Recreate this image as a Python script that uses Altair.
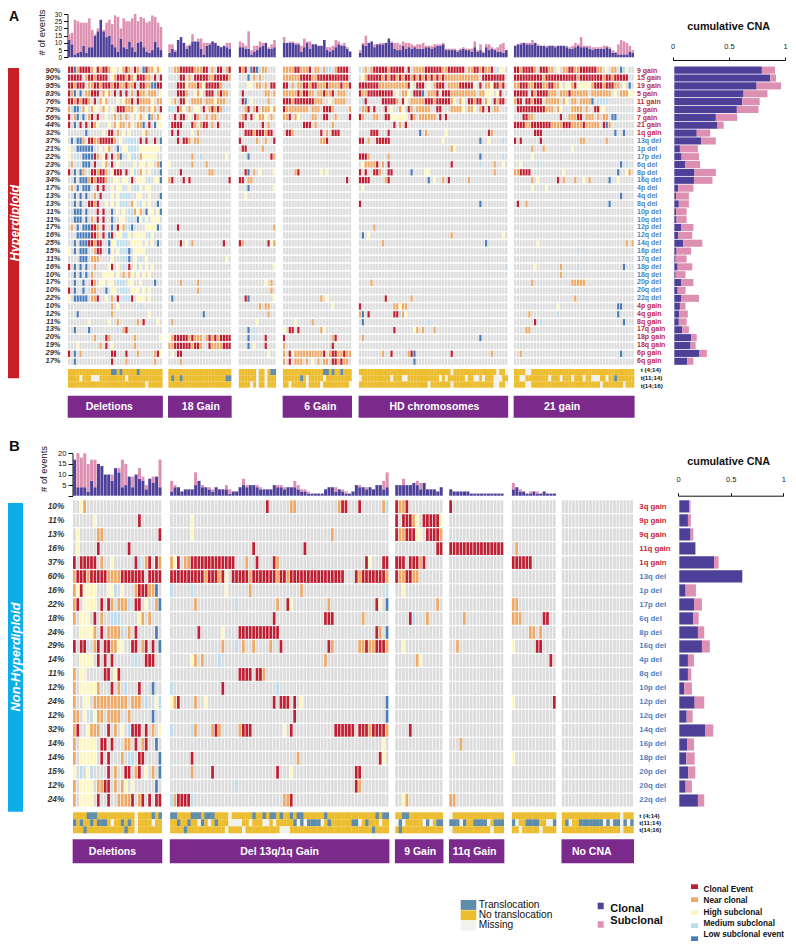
import re
import altair as alt
import pandas as pd

alt.data_transformers.disable_max_rows()

# ------------------------------------------------------------------ values
ROWS_A = ["9 gain","15 gain","19 gain","5 gain","11 gain","3 gain","7 gain","21 gain","1q gain","13q del",
          "1p del","17p del","6q del","8p del","16q del","4p del","4q del","8q del","10p del","10q del",
          "12p del","12q del","14q del","16p del","17q del","18p del","18q del","20p del","20q del","22q del",
          "4p gain","4q gain","8q gain","17q gain","18p gain","18q gain","6p gain","6q gain"]
PCT_A = [90,90,95,83,76,75,56,44,32,37,21,22,23,37,34,17,13,13,11,11,17,16,25,15,11,16,10,17,10,22,10,12,11,13,20,19,29,17]
CLONAL_SHARE_A = [.78,.855,.733,.617,.606,.557,.37,.385,.20,.24,.05,.065,.095,.18,.175,.035,.015,.04,.015,.02,
                  .06,.035,.08,.02,.012,.03,.012,.06,.03,.06,.05,.045,.04,.07,.15,.145,.22,.115]
TOTAL_SHARE_A = [.897,.906,.95,.83,.76,.75,.56,.44,.32,.37,.21,.22,.23,.37,.34,.17,.13,.13,.11,.11,
                 .17,.16,.25,.15,.11,.16,.10,.17,.10,.22,.10,.12,.11,.13,.20,.19,.29,.17]

ROWS_B = ["3q gain","9p gain","9q gain","11q gain","1q gain","13q del","1p del","17p del","6q del","8p del","16q del",
          "4p del","8q del","10p del","12p del","12q del","14q del","16p del","18p del","20p del","20q del","22q del"]
PCT_B = [10,11,13,16,37,60,16,22,18,24,29,14,11,12,24,12,32,14,14,15,12,24]
CLONAL_SHARE_B = [.095,.082,.107,.152,.33,.598,.06,.14,.133,.177,.215,.082,.082,.047,.146,.07,.244,.073,.066,.085,.06,.177]
TOTAL_SHARE_B = [.107,.11,.133,.158,.373,.60,.158,.215,.184,.237,.29,.14,.114,.12,.237,.127,.323,.14,.146,.152,.12,.237]

SIZES_A = [33,22,13,24,52,42]
SIZES_B = [26,64,14,16,13,21]
BOX_A = [("Deletions",0,-6),("18 Gain",1,1),(None,2,0),("6 Gain",3,3),("HD chromosomes",4,1),("21 gain",5,-12)]
BOX_B = [("Deletions",0,-5),("Del 13q/1q Gain",1,0),("9 Gain",2,1),("11q Gain",3,-2),(None,4,0),("No CNA",5,-6)]

CLONAL_EVENTS_A = [
 [12,9,2,3,4,8,3,7,7,15,18,26,18,14,15,9,7,4,13,7,6,11,7,4,10,11,7,4,3,5,11,7,5],
 [3,6,4,12,14,10,6,8,11,11,11,6,2,8,9,11,10,8,7,8,7,6],
 [7,7,6,6,2,4,5,7,8,10,6,6,7],
 [10,10,10,10,9,9,4,7,10,6,9,9,8,8,12,5,4,5,7,9,8,8,6,4],
 [3,9,8,10,11,7,9,9,9,10,13,10,6,5,5,8,6,7,6,7,6,6,6,7,7,6,7,8,8,9,5,5,5,5,4,5,6,5,5,4,7,4,5,3,7,5,6,5,4,4,3,5],
 [8,9,9,10,9,9,9,10,8,8,8,7,8,8,7,8,8,8,7,6,6,7,8,7,7,7,6,5,6,6,6,6,7,6,3,3,2,2,2,2,4,3],
]
TOTAL_EVENTS_A = [
 [16,17,26,25,24,24,24,27,19,16,20,26,19,24,26,23,29,28,20,27,25,25,27,30,25,28,27,24,25,29,28,24,21],
 [9,9,5,12,14,10,8,9,16,11,13,13,10,10,10,11,10,8,7,8,10,10],
 [11,10,8,18,5,8,8,11,10,10,7,9,12],
 [14,10,11,11,10,10,8,13,11,11,9,9,8,8,12,7,7,8,12,11,9,10,7,4],
 [5,10,15,10,11,9,9,10,10,10,13,11,10,10,9,11,10,10,9,8,9,9,10,8,8,8,9,9,9,10,6,6,6,6,5,6,7,6,6,6,11,5,9,4,9,9,7,6,7,9,10,5],
 [8,9,10,10,10,10,12,10,9,8,8,8,8,8,8,8,8,8,8,7,8,10,9,14,8,8,8,7,7,7,7,8,8,7,5,4,9,12,11,10,8,5],
]
CLONAL_EVENTS_B = [
 [17,4,4,4,2,7,4,15,14,10,10,7,13,11,4,5,9,4,10,8,7,3,8,6,9,4],
 [2,4,4,2,3,3,3,5,7,4,4,3,2,4,3,3,3,1,2,2,4,5,4,5,5,4,3,3,3,3,5,4,4,3,4,4,4,3,2,2,1,1,1,1,1,3,4,4,2,3,2,1,1,2,5,4,4,3,4,3,5,5,3,4],
 [5,5,5,5,5,6,5,3,6,3,3,3,2,4],
 [3,2,2,2,2,2,1,1,1,1,1,1,1,1,1,1],
 [3,4,2,2,1,1,2,1,1,2,1,1,1],
]
TOTAL_EVENTS_B = [
 [17,20,18,20,15,17,17,15,14,10,10,10,13,13,17,15,9,9,10,13,9,5,8,9,9,17],
 [7,5,4,2,3,3,3,11,7,5,4,4,3,4,3,3,5,3,2,2,4,8,5,4,5,5,4,3,3,3,3,5,5,4,4,4,7,5,3,3,2,1,1,1,1,1,3,4,4,2,3,2,1,1,2,5,4,4,4,3,5,5,7,11],
 [5,5,8,5,5,6,7,6,6,3,3,3,2,4],
 [3,2,2,2,2,2,1,1,1,1,1,1,1,1,1,1],
 [6,4,3,2,1,2,2,2,1,2,1,1,1],
]

# Heat cells: plain string = one letter per column; tokens = letter + column(s); absent = all grey
# R clonal, O near clonal, Y high subclonal, L medium subclonal, B low subclonal
A_G1 = {
 "9 gain":"RRBORRRROYRORROYY.YORO.RO.BROOYOY","15 gain":"RRRRR.ORRORRRR.YORRROROYRRROO.R.R",
 "19 gain":"RRORRR.OORRORRRORROOROOR.RROOBBRR","5 gain":"ROB.B.OORRR.OYO.R.R.R.O.ROO.OOO.Y",
 "11 gain":"RRORORRO.R.OYO...Y.YOOR.ROOOOY.OO","3 gain":"OLBBLOY.OYY.OY.Y.RRROOOY.OOLOYO.R",
 "7 gain":"R.OB.B.OR.R..Y..O.O.O.Y.YO.YBO.OY","21 gain":"R.B.R.R.ROY...Y.OYOO.OY.OOB.R.BYY",
 "1q gain":"......B.....Y.RR.O.Y.Y....YO.....","13q del":".B.BBO.RROORRRRRO.Y.LLLL.R.R..R.B",
 "1p del":"Y..BBBBBB..Y.YO..B.YYLLL.YYYYYYY.","17p del":"Y..L.BBBBRO.YR.R.OB..YLL.OYYYYY..",
 "6q del":".O.L.BBB.R..YO.R.Y.....Y.YY.YY.OB","8p del":"R.B.BO..RRORRO.YRRR.R.YL.OY.Y.L.B",
 "16q del":"..B.BBBORORRRO..YY.YY.R.YYY.L.YYB","4p del":".O.B.BBB..R.R..Y.YYL.Y.LLY.YY...",
 "4q del":"..B.B.B..O.R...Y.YLLLL..YY..Y...B","8q del":"..B.B..RROR..Y.Y.YLLL.OY.LY.Y..B",
 "10p del":"..BBB.B...R.R..B.Y.Y.LLOYO.BYY.YB","10q del":"..BBB.B.O.R.R..B..YY.LL.BYLY.YYY.",
 "12p del":".O.B.BBBRRO.R..B.RYOLLB....YYYYB","12q del":"...BBBBBRRO.R.BR.YYLLY.YYYY.LY..",
 "14q del":"..B.BBBRRORR..BYYLLLL.YYYY.Y.Y.B","16p del":"Y.B.BBB..ORR..BY.YLLLB.YYYY.....",
 "17q del":"....BBB.OOO....Y...LLB.Y.L.Y.....","18p del":"R.B.B.B..O....YR.Y.L.R.YLY.Y.Y..",
 "18q del":"..B.B.B.O...YYYY.Y.O.OY.Y.Y.Y...","20p del":"..B..B..RO.YY.YY.LLL.YY..Y....B",
 "20q del":"R.B..B..OO...B.YY.LLL.YYY.Y.Y...","22q del":"Y.BBBBB.OOR..Y.O.R.LLLR.YYY.Y...",
 "4p gain":"O15 Y17 L25","4q gain":"B3 O15 Y28","8q gain":"Y7 Y14 O17 O24 R26 Y31",
 "17q gain":"B2 B7 L17 O19 R20","18p gain":"O9 R13 O14 O23 Y32","18q gain":"Y3 O11 R13 Y15 O23",
 "6p gain":"R0 B2 O4 R15-16 R20 O24 O30 R31 Y32","6q gain":"B2 R15 O20 O30",
}
A_G2 = {
 "9 gain":"..OORRRRROOORR.O.RR.OR","15 gain":"....RR.O.RRRRROORRRRRO","19 gain":"...RRRYOOOROYRRRRRO...",
 "5 gain":"...RRRO..YOY.RRR.OROO.","11 gain":"Y.O.RRY.OOOO.OOOYOOO..","3 gain":"LL.ROY.O.YY.R.OROROL..",
 "7 gain":"..R.RR.Y.RO..O.OO.....","21 gain":".RRRR...RO.ORR.O.R....","1q gain":".R.R....Y.O...........",
 "13q del":"...R.RRO.OO...........","17p del":"O8 L11 Y20","6q del":"Y0 O8 O13","8p del":"R4 O14 O15",
 "16q del":"O0 R1 R5 R7 R21","12p del":"R3","14q del":"R4 Y6 O8 R19","17q del":"Y20","20p del":"O4 O10",
 "20q del":"O10","22q del":"B1","4q gain":"B12","8q gain":"O1","18p gain":"YORRRRROROOO.ORORORRRR",
 "18q gain":"OORRRRRRORRO..ROOOORRR","6p gain":"Y1 R3-4","6q gain":"O4",
}
A_G3 = {
 "9 gain":"ROR.BRBLOO...","15 gain":"B3 O5 O7","19 gain":"...YY.OO.O.RR","5 gain":"R1 O9-10 O12",
 "11 gain":".RB.Y.....O..","3 gain":"..OR.OR.OOOYO","7 gain":".OR.R.YOOY.O.","21 gain":"RR......R.O..",
 "1q gain":"..RRRORRRORR.","13q del":"R0 O6 O9 R12","1p del":"R1-2 O8","17p del":"B3 R11 O12",
 "8p del":"R2 B3 O5 Y7 Y12","16q del":"R0-1 O3-4","4p del":"B3 Y12","4q del":"Y2","12p del":"O12",
 "14q del":"R0 O1 R10 Y11 O12","18p del":"Y12","20p del":"Y9 O11","20q del":"O11","22q del":"R2 B3 Y12",
 "4p gain":"O7 O9-10","4q gain":"O10","8q gain":"Y6","17q gain":"B3 L5","18p gain":"B3 L5 R9","18q gain":"B3 Y5 R9","6p gain":"Y10",
}
A_G4 = {
 "9 gain":"OOOORROOOR.OO.OLL.ORRRR.","15 gain":"OOOOOORRRROORRRRRRRRRRR.","19 gain":"RR.O.OORRORROOOROOOOROOR",
 "5 gain":"OOOOORORROO.OOROOR.OOO..","11 gain":"RRRORRRRRRROOO..Y.OOOO..","3 gain":"ROOOOOOOO.OOO.RRRO.....O",
 "7 gain":"OOR.OY....OO..RR..O....R","21 gain":"R7-9 O11 O17","1q gain":"R1-2 O3 R13 O15 R17-19",
 "13q del":"O13-14 R15","8p del":"O4 R5 Y13 Y15","16q del":"R22","22q del":"O13 Y15","4p gain":"Y17",
 "8q gain":"Y4 O10","17q gain":"Y0 R2-3 R5 O13 Y14","18p gain":"R0 O17 R18","18q gain":"O0 R17",
 "6p gain":"O.RYOOOOOOOOOOR.ORROOROO","6q gain":"O.R.OOO.O.Y.O.OO.RROROO",
}
A_G5 = {
 "9 gain":"..O.ORRRRRORRRRR.R.OOOORRRRRROORRRRRR.OORROROOR.LYY","15 gain":".YORRRRRORORRORORROROROROROROROOOOOOOOOOOO.RRRRRRRR",
 "19 gain":"RRRRRRROOOOOOOOOORY.RRR.Y.ORRR.OOOORRRRRY.R.OOYRROR","5 gain":"ROORRRRRRRRR.Y.OOY.RRRB.OOOR.RRROOOOOOOOO.OOYYY.YR.",
 "11 gain":".LR.....RRRRRO.RY.OOOOORRRORRRRROY.OY.RRORR.OY.RORR","3 gain":"LOOR.R...R.Y..OY.RO.OOOOO..RR...OOOOY.OOY.OR.R.OO..",
 "7 gain":"RO...OO..RRYYYYYY.RO.OOOOOO.R.R....................","21 gain":"R12 O14 R16",
 "1q gain":"R4-6 R10 B21 O23 Y30 R45 O46","13q del":"R0-1 O3 R6-10 Y29 B42 Y45 L50","1p del":"O32 Y33",
 "17p del":"R0-2 O3 O10 B42 L50","6q del":"Y1 O2-5 R6 O8 R10 R32 L42 O47 Y50","8p del":"R0 R2 R5-6 O7 R10-11 B18 Y23-24 O47",
 "16q del":"R0-3 O9 R10 B24 Y26 O29 R31 O38","4p del":"Y1","8q del":"R0 B42","12p del":"O5","12q del":"B1 Y3 O32 Y50",
 "14q del":"O8 B44","18p del":"L51","20p del":"O4","22q del":"R9 O18","4p gain":"R0 O12-13 Y14 O15-16",
 "4q gain":"O0 B1 R3 R12-13 L14 O15 Y16","8q gain":"B1 L24","17q gain":"R12 Y19 O20 O22 O26","18p gain":"O1 B42",
 "6p gain":"O8 R11 O17 R18 B19 R32 O46","6q gain":"B19",
}
A_G6 = {
 "9 gain":"RRORRRRO.RRROO.Y.OORROORRRRRROO.Y.OO.BLY.","15 gain":"RRRRRRRRRRORRRRRRRRRRRORRRRRRRRORRORRRRR.",
 "19 gain":"OORRROORRROORROOY.YYORYYYYYORRRORRROO.Y.B","5 gain":"RRRRR.RORRRROOO.OOOROOOOOO.OOOOOOO.Y.OOOYY",
 "11 gain":"ORR.RRORRR.OOOOO.OY.OO.OOOOB.LLLL.........","3 gain":".RRRRRRRRRROOO.OY...OOOO.O..RRYY..........",
 "7 gain":"...RROO.........R..OOORR.OOO.O.OO.BB......","21 gain":"RRRROORRRRRRROOOORRROOOOROOOOO.RBO........",
 "1q gain":"R7-9 B35 B38","13q del":"R0 R2 R9 O23-24 O32","1p del":"O6 O10 Y20","17p del":"Y6",
 "6q del":"Y2 L8 B37 L39","8p del":"O0-1 R2-5 Y17 B36 Y39 O40","16q del":"O6 Y8 R15 O17 O21 Y24 O26 B33 Y36",
 "4p del":"Y6 Y11","4q del":"B37","8q del":"R1 O4 B33","14q del":"Y8 O39 O41","16p del":"L22","18p del":"Y7 O16 L22 B38",
 "18q del":"O16","20p del":"O6 O20-24","22q del":"O21","4p gain":"Y15 B36-37","4q gain":"O5 L15 B36","8q gain":"R7 L9 B38",
 "17q gain":"O4-5","6p gain":"O2 B37",
}
B_G1 = {
 "3q gain":"Y2 O3","9p gain":"Y6 R19","9q gain":"Y1 O7-8 R25","11q gain":"Y1 R7 R16",
 "1q gain":"R.RRRRR.O..Y......RL.OR.RO","13q del":"ORRRORRRRROOOORRRRRRR.RRRR","1p del":"OYRYYYY...YYL.Y...ORRROOB",
 "17p del":"OR.YYYY.R.RO.OOOL.RR.Y..OB","6q del":"O.YYY.R.O..LLL.....YO.O...","8p del":"..YYYYO.R.OOOOL.O.R.....B",
 "16q del":"R.RR..OR.RROOYY..RR.OR.R.B","4p del":"..YYYY.R.R.R......L..RRR..","8q del":"O.YY.....RR.YR............",
 "10p del":"O.YYYYYO...R.O.L...R...B","12p del":"O..YY.OOOOOOOOOO.OOO.L..YL","12q del":"OO.Y.LYOO.OOOO..O......B",
 "14q del":"OR..YOOO..R.O.Y.LRRR.R.O.Y","16p del":"O.YYYYY.RR.R...OO.R.OR..B","18p del":"O.YYYYY.R.R...O.LL.RR....B",
 "20p del":"Y0 L2 Y4 L5 R10 O12 R15-16 O18 R19 Y21 O23 B25","20q del":"O.YYYY.OORR.O.OY.Y......B",
 "22q del":"O.YYYY.R..R..OOOOR.OR.R.RR",
}
B_G2 = {
 "3q gain":"R28 O35-36 O49 R50-51 R55 O62 L63","9p gain":"Y6","9q gain":"Y6 O47","11q gain":"R24 R39",
 "1q gain":"O0 Y1 R2 O4-5 R6-18 O22 R25 R30 O31 R57 Y58 R62-63",
 "13q del":"R0-9 O10 R11-13 O14 R15 Y16 R18-22 O23 R24-30 O31 R32-33 O34 R35-50 R54 O55 R56-62 O63",
 "1p del":"L0 L6 Y16 O23 O38 L63","17p del":"O7 L19 O31 R34 Y35 O46 R60 Y61 B63","6q del":"R30 R45-47 O56",
 "8p del":"R8 Y15 R20-31 R60 O61 B63","16q del":"O15 L19 O21 O24 O29 R32 R46 O47 O55-56 R57 O58-59 R60-62 O63",
 "4p del":"Y6 O7 O9 L14 O45","8q del":"R20-23 R25-26 O27","10p del":"L0 R15 L31",
 "12p del":"Y0 O1 R2 O7 Y10 R30 R32-34 R36 Y38 B63","12q del":"R36 B63",
 "14q del":"L0 L6 O7 O12 R13 O14 O20 R21-23 Y33 R35 R48-53 R55-57 O58 R59-62 O63","16p del":"Y62",
 "18p del":"R6 O37 R61 Y62","20p del":"O6 R12 R31 Y35 R54-55","20q del":"L19 R54 O55","22q del":"L0 O1 R2-5 L6 O33-34 R35",
}
B_G3 = {
 "3q gain":"R0 O1-2 R3","9p gain":"R.RRROY.RRRRRY","9q gain":"ROORRRYY.RRRRO","11q gain":"R12-13",
 "1q gain":"RRR.RRROR.....","13q del":"ROORROO.......","1p del":"Y2","17p del":"O12","6q del":"R4 L5 O9","16q del":"Y2",
 "4p del":"O6 Y7","14q del":"R4","22q del":"Y2 O3",
}
B_G4 = {"3q gain":"R0","11q gain":"R0-15","16q del":"O2","6q del":"O4","16p del":"O3","22q del":"O0-1"}
B_G5 = {
 "11q gain":"O1","1q gain":"R0-5","17p del":"O0-1","6q del":"O0-2 R9-10","8p del":"O5-6 O8","16q del":"Y0 R7-8",
 "4p del":"R11","12p del":"Y0 R12","18p del":"Y0",
}
B_G6 = {}

# Translocation strips: t translocation, m missing, everything else no translocation
TR_A = [
 ["t15-16 t18 t24","m4 m8-10 m20","m27"],["","t1 t4 t20-21",""],["m6 m9 t11-12","m6 m9","m4 m6 m9"],
 ["t14-15 t17 t20","t6 m8 m14","m2 m8 m13 m23"],
 ["m32 m48 m51","m0 m11 m15-16 m28 m30 m37 m40-41 m43 m47-49","m24 m32 m47-48 m51"],
 ["m4-5","m2-3 m12 m16 m20 m24 m27-29 m32 t35","m4-5 m30 m38"],
]
TR_B = [
 ["t4-6 m18 t23 t25","t0 t2 t5 t7-9 m11 t14 t16 m18 m23","t3 t15 m18"],
 ["t0-1 t6-8 t10-12 m17 t24 t27 t29-30 t32 t35 t37-38 t45 t60 t62-63",
  "t2 t5 m8 t9 m11 t13 m17-20 m23 m27-28 m30 t36 m37 t38 m39 t40-43 m44 t46 t53-54 m55 t57 m61","t4 m16 m21 m32-34 t59"],
 ["t2-3","m0 t1 m2 m8 t9 m10 t12-13","t1"],["m0","t0-2 m3 t4 t7-10 m11 t13-15","m0 m12"],
 ["","t0 m1 t4-7 m10-11 t12","m2 m8"],["m17","t1 m2 t5-11 m12 t13 m14 t15-16 m17 t18 m19 t20","m17"],
]
TR_LABELS_A = ["t (4;14)","t(11;14)","t(14;16)"]
TR_LABELS_B = ["t (4;14)","t(11;14)","t(14;16)"]

LEG_HEAT = ["Clonal Event","Near clonal","High subclonal","Medium subclonal","Low subclonal event"]
LEG_BAR = ["Clonal","Subclonal"]
LEG_TR = ["Translocation","No translocation","Missing"]

# ------------------------------------------------------------------ styles
STATUS = [".","R","O","Y","L","B"]
STATUS_COL = ["#DCDCDC","#BE2033","#EDA968","#FDF6C0","#BBDCEE","#4A7DB8"]
CLONAL_COL, SUB_COL = "#4E3F98", "#DE90B2"
TR_KEYS, TR_COL = ["y","t","m"], ["#EDBD30","#5F8CA8","#F1F1EE"]
PURPLE = "#7B2A8C"
GAIN_COL, DEL_COL = "#C4283A", "#4F7FBE"
FONT = "Liberation Sans"

def px(v):
    return v - 8

def parse(spec, n, base):
    cells = [base] * n
    if not spec:
        return cells
    if re.search(r"\d", spec):
        for tok in spec.split():
            m = re.fullmatch(r"([A-Za-z])(\d+)(?:-(\d+))?", tok)
            a = int(m.group(2)); b = int(m.group(3) or a)
            for i in range(a, min(b, n - 1) + 1):
                cells[i] = m.group(1)
        return cells
    for i, ch in enumerate(spec[:n]):
        cells[i] = ch
    return cells

def label(text, x, y, size, weight="normal", color="#111", align="left", angle=0, style="normal"):
    return alt.Chart(pd.DataFrame({"t": [text]})).mark_text(
        font=FONT, fontSize=size, fontWeight=weight, color=color, align=align, angle=angle,
        fontStyle=style, baseline="middle",
    ).encode(text="t:N", x=alt.value(px(x)), y=alt.value(px(y)))

def ribbon(x0, x1, y0, y1, color):
    return alt.Chart(pd.DataFrame({"k": [0]})).mark_rect(color=color).encode(
        x=alt.value(px(x0)), x2=alt.value(px(x1)), y=alt.value(px(y0)), y2=alt.value(px(y1)))

def panel(rows, pct, clonal_share, total_share, sizes, starts, groups, clonal_ev, total_ev, tr, boxes, tr_labels, g):
    layers = []
    xs = alt.Scale(domain=[0, g["xmax"]], range=[px(g["x0"]), px(g["x1"])], nice=False, zero=False)
    rows_scale = alt.Scale(domain=rows, range=[px(g["y0"]), px(g["y1"])], paddingInner=g["pad"], paddingOuter=0)
    # heat map
    recs = []
    for st, n, grp in zip(starts, sizes, groups):
        for r in rows:
            for i, ch in enumerate(parse(grp.get(r, ""), n, ".")):
                recs.append({"c": round(st + i, 2), "c2": round(st + i + g["cw"], 2), "r": r, "s": ch})
    layers.append(alt.Chart(pd.DataFrame(recs)).mark_rect().encode(
        x=alt.X("c:Q", scale=xs, axis=None), x2="c2:Q",
        y=alt.Y("r:N", scale=rows_scale, sort=None, axis=None),
        color=alt.Color("s:N", scale=alt.Scale(domain=STATUS, range=STATUS_COL), legend=None)))
    # event bars
    recs = []
    for st, cl, to in zip(starts, clonal_ev, total_ev):
        for i, (a, b) in enumerate(zip(cl, to)):
            recs.append({"c": round(st + i, 2), "c2": round(st + i + .88, 2), "lo": 0, "hi": a, "k": "Clonal"})
            if b > a:
                recs.append({"c": round(st + i, 2), "c2": round(st + i + .88, 2), "lo": a, "hi": b, "k": "Subclonal"})
    ys = alt.Scale(domain=g["evdom"], range=[px(g["ev0"]), px(g["ev1"])], nice=False, zero=False)
    layers.append(alt.Chart(pd.DataFrame(recs)).mark_rect().encode(
        x=alt.X("c:Q", scale=xs, axis=None), x2="c2:Q",
        y=alt.Y("lo:Q", scale=ys, axis=alt.Axis(
            orient="left", offset=-px(g["x0"] - .5), values=g["evticks"], grid=False, title=None,
            labelFont=FONT, labelFontSize=g["evlab"], labelColor="#111", labelPadding=2, tickColor="#111",
            domainColor="#111", tickSize=g["evtick"], tickWidth=1, domainWidth=1,
            labelExpr="datum.value == 0 && " + g["hide0"] + " ? '' : datum.label")),
        y2="hi:Q",
        color=alt.Color("k:N", scale=alt.Scale(domain=LEG_BAR, range=[CLONAL_COL, SUB_COL]), legend=None)))
    # translocation strips (a hair of overlap closes the seams between neighbours)
    recs = []
    for st, n, tri in zip(starts, sizes, tr):
        for lab, spec in zip(tr_labels, tri):
            cells = parse(spec, n, "y")
            for i, ch in enumerate(cells):
                recs.append({"c": round(st + i, 2), "c2": round(st + i + (1.08 if i < n - 1 else 1), 2), "r": lab, "s": ch})
    tscale = alt.Scale(domain=tr_labels, range=[px(g["t0"]), px(g["t1"])], paddingInner=0, paddingOuter=0)
    layers.append(alt.Chart(pd.DataFrame(recs)).mark_rect().encode(
        x=alt.X("c:Q", scale=xs, axis=None), x2="c2:Q",
        y=alt.Y("r:N", scale=tscale, sort=None, axis=None),
        color=alt.Color("s:N", scale=alt.Scale(domain=TR_KEYS, range=TR_COL), legend=None)))
    layers.append(alt.Chart(pd.DataFrame({"t": tr_labels})).mark_text(
        font=FONT, fontSize=6.2, fontWeight="bold", color="#111", align="left").encode(
        text="t:N", x=alt.value(px(g["trx"])),
        y=alt.Y("t:N", sort=None, axis=None, scale=alt.Scale(
            domain=tr_labels, range=[px(g["tl0"]), px(g["tl1"])], paddingInner=0, paddingOuter=0))))
    # purple group boxes
    recs = [{"name": nm, "a": starts[i] - .1, "b": starts[i] + sizes[i] + .1,
             "m": starts[i] + sizes[i] / 2 + dx / g["pitch"]} for nm, i, dx in boxes if nm]
    bdf = pd.DataFrame(recs)
    layers.append(alt.Chart(bdf).mark_rect(color=PURPLE).encode(
        x=alt.X("a:Q", scale=xs, axis=None), x2="b:Q", y=alt.value(px(g["b0"])), y2=alt.value(px(g["b1"]))))
    layers.append(alt.Chart(bdf).mark_text(font=FONT, fontSize=g["bfont"], fontWeight="bold", color="white").encode(
        text="name:N", x=alt.X("m:Q", scale=xs, axis=None), y=alt.value(px((g["b0"] + g["b1"]) / 2 + g["bdy"]))))
    # row percentages and row names
    df = pd.DataFrame({"r": rows, "p": [f"{v}%" for v in pct], "k": [r.split()[1] for r in rows]})
    layers.append(alt.Chart(df).mark_text(font=FONT, fontSize=g["pfont"], fontWeight="bold", fontStyle="italic",
                                          color="#333", align="right").encode(
        text="p:N", x=alt.value(px(g["px"])), y=alt.Y("r:N", scale=rows_scale, sort=None, axis=None)))
    layers.append(alt.Chart(df).mark_text(font=FONT, fontSize=g["rfont"], fontWeight=g["rw"], align="left").encode(
        text="r:N", x=alt.value(px(g["rx"])), y=alt.Y("r:N", scale=rows_scale, sort=None, axis=None),
        color=alt.Color("k:N", scale=alt.Scale(domain=["gain", "del"], range=[GAIN_COL, DEL_COL]), legend=None)))
    # cumulative bars
    recs = []
    for r, a, b in zip(rows, clonal_share, total_share):
        recs.append({"r": r, "lo": 0, "hi": a, "k": "Clonal"})
        recs.append({"r": r, "lo": a, "hi": b, "k": "Subclonal"})
    barx = alt.Scale(domain=[0, 1], range=[px(g["c0"] + g["cb"]), px(g["c1"] + g["cb"])], nice=False, zero=False)
    layers.append(alt.Chart(pd.DataFrame(recs)).mark_rect().encode(
        x=alt.X("lo:Q", scale=barx, axis=None), x2="hi:Q",
        y=alt.Y("r:N", scale=alt.Scale(domain=rows, range=[px(g["y0"]), px(g["y1"])],
                                       paddingInner=g["cpad"], paddingOuter=0), sort=None, axis=None),
        color=alt.Color("k:N", scale=alt.Scale(domain=LEG_BAR, range=[CLONAL_COL, SUB_COL]), legend=None)))
    axx = alt.Scale(domain=[0, 1], range=[px(g["c0"]), px(g["c1"])], nice=False, zero=False)
    layers.append(alt.Chart(pd.DataFrame({"v": [0, .5, 1]})).mark_rule(opacity=0).encode(
        x=alt.X("v:Q", scale=axx, axis=alt.Axis(
            orient="top", offset=-px(g["cy"]), values=[0, .5, 1], grid=False, title=None, format="~g",
            labelFont=FONT, labelFontSize=7.5, labelColor="#222", labelPadding=g["clp"], tickColor="#111",
            domainColor="#111", tickSize=3, tickWidth=1, domainWidth=1, labelFlush=False))))
    return layers

A_GEO = dict(xmax=197.25, x0=68, x1=633.3, y0=66.6, y1=364.8, pad=.2, cw=.78, pitch=2.866, evdom=[0, 30], ev0=57.3, ev1=14,
             evticks=[0,5,10,15,20,25,30], evlab=6.5, evtick=4, hide0="false", t0=369, t1=387.7, trx=640.7, tl0=366.2, tl1=389.4,
             b0=395.7, b1=417.7, bfont=10.5, bdy=.5, pfont=7.5, px=60.5, rfont=7, rw="bold", rx=637,
             c0=672.7, c1=785, cb=1.6, cpad=.1, cy=60, clp=7)
B_GEO = dict(xmax=164, x0=73, x1=634, y0=500.3, y1=806.6, pad=.09, cw=.8, pitch=3.42, evdom=[0, 20], ev0=495.7, ev1=453.3,
             evticks=[0,5,10,15,20], evlab=7.6, evtick=4.5, hide0="true", t0=812.3, t1=833.3, trx=639.3, tl0=812, tl1=834,
             b0=839.3, b1=863.3, bfont=10.5, bdy=.5, pfont=8.3, px=64.3, rfont=7.8, rw="bold", rx=639.3,
             c0=678, c1=783.3, cb=1.3, cpad=.13, cy=495.7, clp=9)

STARTS_A = [0, 35, 59.6, 75, 101.5, 155.6]
STARTS_B = [0, 28.4, 94.2, 110, 128.3, 142.9]

layers = []
layers += [ribbon(0, 19, 68, 378.3, "#C92028"), ribbon(5, 23, 503, 811.7, "#0DAEE8")]
layers += [label("Hyperdiploid", 14.5, 223, 12.5, "bold", "white", "center", 270, "italic"),
           label("Non-Hyperdiploid", 16, 657, 13, "bold", "white", "center", 270, "italic"),
           label("A", 9, 17, 14, "bold"), label("B", 9, 446, 15, "bold"),
           label("# of events", 41.7, 32.5, 9.4, "normal", "#111", "center", 270),
           label("# of events", 44.3, 469, 9.4, "normal", "#111", "center", 270),
           label("cumulative CNA", 728.7, 27, 10.8, "bold", "#111", "center"),
           label("cumulative CNA", 728.7, 461.7, 10.8, "bold", "#111", "center")]

layers += panel(ROWS_A, PCT_A, CLONAL_SHARE_A, TOTAL_SHARE_A, SIZES_A, STARTS_A,
                [A_G1, A_G2, A_G3, A_G4, A_G5, A_G6], CLONAL_EVENTS_A, TOTAL_EVENTS_A, TR_A, BOX_A, TR_LABELS_A, A_GEO)
layers += panel(ROWS_B, PCT_B, CLONAL_SHARE_B, TOTAL_SHARE_B, SIZES_B, STARTS_B,
                [B_G1, B_G2, B_G3, B_G4, B_G5, B_G6], CLONAL_EVENTS_B, TOTAL_EVENTS_B, TR_B, BOX_B, TR_LABELS_B, B_GEO)

# hand-made legends: swatch column and text column from the same band scale
def legend(names, colors, x0, x1, tx, y0, y1, pad, size, weight="normal"):
    sc = alt.Scale(domain=names, range=[px(y0), px(y1)], paddingInner=pad, paddingOuter=0)
    df = pd.DataFrame({"n": names})
    sw = alt.Chart(df).mark_rect().encode(
        x=alt.value(px(x0)), x2=alt.value(px(x1)), y=alt.Y("n:N", scale=sc, sort=None, axis=None),
        color=alt.Color("n:N", scale=alt.Scale(domain=names, range=colors), legend=None))
    tt = alt.Chart(df).mark_text(font=FONT, fontSize=size, fontWeight=weight, color="#111", align="left").encode(
        text="n:N", x=alt.value(px(tx)), y=alt.Y("n:N", scale=sc, sort=None, axis=None))
    return [sw, tt]

layers += legend(LEG_TR, ["#5F8CA8", "#EDBD30", "#F1F1EE"], 460.7, 476.3, 478.7, 900, 930.5, .04, 10.2)
layers += legend(LEG_BAR, [CLONAL_COL, SUB_COL], 597.7, 603.7, 610.3, 902.7, 927.7, .65, 11, "bold")
layers += legend(LEG_HEAT, STATUS_COL[1:], 691, 698, 703.5, 884.3, 941, .64, 8.2, "bold")

chart = alt.layer(*layers).resolve_scale(
    x="independent", y="independent", color="independent"
).resolve_axis(x="independent", y="independent").properties(
    width=780, height=934, padding=0, autosize=alt.AutoSizeParams(type="none")
).configure_view(stroke=None)

chart.save("out.html", embed_options={"renderer": "svg", "actions": False})
